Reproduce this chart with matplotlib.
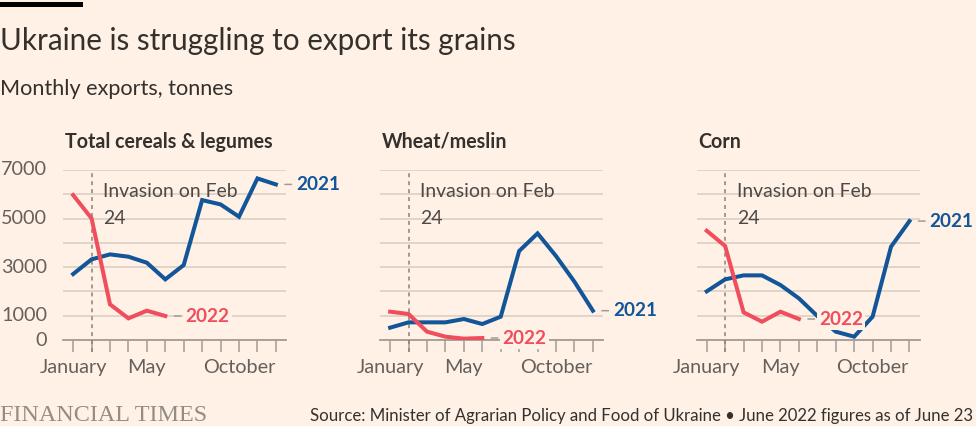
import matplotlib
matplotlib.use("Agg")
import matplotlib.pyplot as plt
from matplotlib import font_manager
from matplotlib.patches import Rectangle
import matplotlib.transforms as mtransforms

# ---------------- data ----------------
months = ["January", "February", "March", "April", "May", "June", "July",
          "August", "September", "October", "November", "December"]
month_tick_labels = ["January", "", "", "", "May", "", "", "", "", "October", "", ""]
panel_titles = ["Total cereals & legumes", "Wheat/meslin", "Corn"]

total_2021 = [2716, 3320, 3525, 3430, 3182, 2497, 3086, 5761, 5583, 5075, 6653, 6406]
total_2022 = [5967, 5007, 1468, 892, 1207, 988]
wheat_2021 = [508, 727, 727, 727, 864, 658, 960, 3663, 4390, 3457, 2400, 1207]
wheat_2022 = [1166, 1070, 343, 137, 55, 82]
corn_2021 = [2003, 2497, 2661, 2661, 2263, 1715, 988, 343, 137, 960, 3841, 4897]
corn_2022 = [4499, 3868, 1139, 754, 1166, 864]

y_ticks = [0, 1000, 2000, 3000, 4000, 5000, 6000, 7000]
y_tick_labels = ["0", "1000", "", "3000", "", "5000", "", "7000"]
series_names = ["2021", "2022"]
invasion_month = "February"
invasion_label = ["Invasion on Feb", "24"]

title = "Ukraine is struggling to export its grains"
subtitle = "Monthly exports, tonnes"
source = "Source: Minister of Agrarian Policy and Food of Ukraine \u2022 June 2022 figures as of June 23"
brand = "FINANCIAL TIMES"

# ---------------- style ----------------
BG = "#fff1e5"
BLUE = "#125599"
RED = "#f04d5d"
TEXT = "#33302e"
MUTED = "#66605c"
GRID = "#d9ccc1"
AXIS = "#a39b94"

installed = {f.name for f in font_manager.fontManager.ttflist}
SANS = ["Lato", "DejaVu Sans"] if "Lato" in installed else ["DejaVu Sans"]
SERIF = ["Liberation Serif", "DejaVu Serif"]
NARROW = ["Liberation Sans Narrow"] + SANS if "Liberation Sans Narrow" in installed else SANS
plt.rcParams["font.family"] = SANS

W, H = 976, 426
fig = plt.figure(figsize=(W / 100, H / 100), dpi=100, facecolor=BG)
renderer = fig.canvas.get_renderer()


def fx(px):
    return px / W


def fy(py):
    return 1 - py / H


def fit(t, width_px):
    w = t.get_window_extent(renderer).width
    t.set_fontsize(t.get_fontsize() * width_px / w)
    return t


# top bar
fig.patches.append(Rectangle((0, fy(6.5)), fx(83), 5 / H, transform=fig.transFigure,
                             facecolor="#000000", edgecolor="none"))

t = fig.text(fx(0), fy(50), title, color=TEXT, fontsize=20, va="baseline", ha="left")
fit(t, 517)
t = fig.text(fx(0), fy(95), subtitle, color=TEXT, fontsize=14, va="baseline", ha="left")
fit(t, 233)

t = fig.text(fx(0), fy(421), brand, color="#958c85", fontsize=15, va="baseline",
             ha="left", family=SERIF)
fit(t, 208)
t = fig.text(fx(310), fy(421), source, color=TEXT, fontsize=12, va="baseline",
             ha="left", family=NARROW)
fit(t, 663)

panel_data = [(total_2021, total_2022), (wheat_2021, wheat_2022), (corn_2021, corn_2022)]
lefts = [63, 380, 696.6]
AX_W, AX_TOP, AX_BOT = 223, 170, 340

x_idx = list(range(len(months)))
inv = months.index(invasion_month)
title_size = None
inv_size = None

for i, (name, (s21, s22), left) in enumerate(zip(panel_titles, panel_data, lefts)):
    ax = fig.add_axes([fx(left), fy(AX_BOT), AX_W / W, (AX_BOT - AX_TOP) / H])
    ax.set_facecolor(BG)
    ax.set_xlim(-0.55, 11.55)
    ax.set_ylim(0, 7000)
    for s in ["top", "right", "left"]:
        ax.spines[s].set_visible(False)
    ax.spines["bottom"].set_color(AXIS)
    ax.spines["bottom"].set_linewidth(1.3)
    ax.spines["bottom"].set_zorder(1.5)

    ax.set_yticks(y_ticks)
    ax.yaxis.grid(True, color=GRID, lw=1.1)
    ax.set_axisbelow(True)
    if i == 0:
        ax.set_yticklabels(y_tick_labels)
        ax.tick_params(axis="y", length=0, pad=11.5, labelsize=14.3, labelcolor=MUTED)
        for lab in ax.get_yticklabels():
            lab.set_verticalalignment("center")
    else:
        ax.tick_params(axis="y", length=0, labelleft=False)

    ax.set_xticks(x_idx)
    ax.set_xticklabels(month_tick_labels)
    ax.tick_params(axis="x", length=8.6, width=1.1, color=AXIS, pad=5,
                   labelsize=14.3, labelcolor=MUTED)

    # invasion marker
    ax.axvline(inv, ymin=-12 / 170, ymax=1, clip_on=False, color="#8a827c",
               lw=1.1, ls=(0, (2.6, 2.6)), zorder=1.6)
    tr = mtransforms.blended_transform_factory(ax.transData, ax.transAxes)
    t1 = ax.text(inv + 0.63, (AX_BOT - 197.3) / 170, invasion_label[0], transform=tr,
                 color="#4d4845", fontsize=12, va="baseline", ha="left", zorder=3)
    if inv_size is None:
        fit(t1, 134)
        inv_size = t1.get_fontsize()
    else:
        t1.set_fontsize(inv_size)
    ax.text(inv + 0.63, (AX_BOT - 224) / 170, invasion_label[1], transform=tr,
            color="#4d4845", fontsize=inv_size, va="baseline", ha="left", zorder=3)

    # lines
    ax.plot(x_idx[:len(s21)], s21, color=BLUE, lw=2.9, zorder=4, solid_joinstyle="miter")
    ax.plot(x_idx[:len(s22)], s22, color=RED, lw=2.9, zorder=5, solid_joinstyle="miter")

    # end labels
    for vals, col, nm in [(s21, BLUE, series_names[0]), (s22, RED, series_names[1])]:
        ax.annotate(nm, xy=(len(vals) - 1, vals[-1]), xytext=(14.4, 0),
                    textcoords="offset points", ha="left", va="center",
                    color=col, fontsize=13.6, fontweight="bold", zorder=6,
                    annotation_clip=False,
                    bbox=dict(boxstyle="square,pad=0.12", fc=BG, ec="none"),
                    arrowprops=dict(arrowstyle="-", color="#a39b94", lw=1.1,
                                    shrinkA=1.5, shrinkB=6.5))

    # panel title
    pt = fig.text(fx(left + 2), fy(147.7), name, color=TEXT, fontsize=12,
                  fontweight="bold", va="baseline", ha="left")
    if title_size is None:
        fit(pt, 206)
        title_size = pt.get_fontsize()
    else:
        pt.set_fontsize(title_size)

fig.savefig("out.png", dpi=100, facecolor=BG)
